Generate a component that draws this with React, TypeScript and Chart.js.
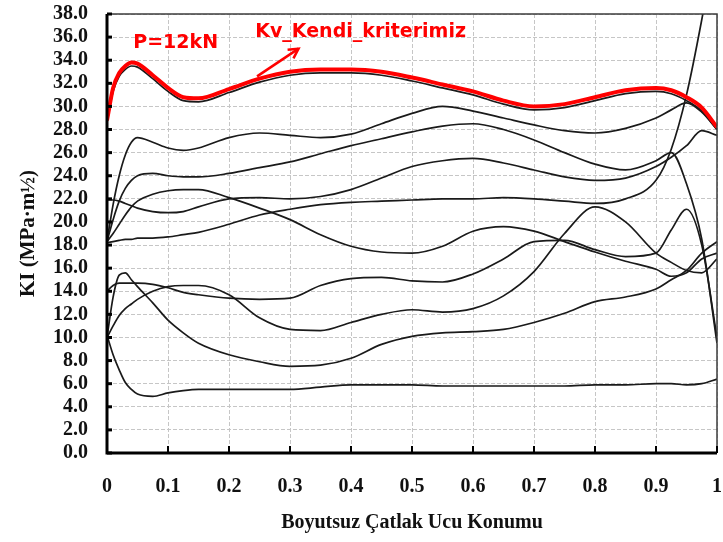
import React, { useEffect, useRef } from "react";
import { Chart, registerables } from "chart.js";

Chart.register(...registerables);

// x positions (dimensionless crack tip position)
const xs = [0, 0.01, 0.02, 0.03, 0.04, 0.05, 0.075, 0.1, 0.125, 0.15, 0.2, 0.25, 0.3, 0.35, 0.4, 0.45, 0.5, 0.55, 0.6, 0.65, 0.7, 0.75, 0.8, 0.85, 0.9, 0.925, 0.95, 0.975, 1];

// red series (Kv_Kendi_kriterimiz)
const kvKendi = [28.8, 31.6, 32.9, 33.5, 33.8, 33.7, 32.7, 31.6, 30.8, 30.7, 31.5, 32.4, 33.0, 33.2, 33.2, 33.0, 32.5, 31.9, 31.3, 30.5, 30.0, 30.2, 30.8, 31.4, 31.6, 31.4, 30.8, 29.9, 28.2];

// black series
const serA = [28.6, 31.3, 32.6, 33.2, 33.5, 33.4, 32.4, 31.3, 30.5, 30.4, 31.2, 32.1, 32.7, 32.9, 32.9, 32.7, 32.2, 31.6, 31.0, 30.2, 29.7, 29.9, 30.5, 31.1, 31.3, 31.1, 30.5, 29.6, 28.0];
const serB = [18.3, 21.5, 24.0, 25.8, 26.9, 27.3, 26.9, 26.4, 26.2, 26.4, 27.3, 27.7, 27.5, 27.3, 27.6, 28.5, 29.4, 30.0, 29.6, 29.0, 28.4, 27.9, 27.7, 28.1, 29.0, 29.7, 30.3, 29.5, 28.0];
const serC = [18.3, 20.2, 21.8, 22.9, 23.6, 24.0, 24.2, 24.0, 23.9, 23.9, 24.2, 24.7, 25.2, 25.9, 26.6, 27.2, 27.8, 28.3, 28.5, 28.0, 27.1, 26.0, 25.0, 24.5, 25.3, 26.0, 23.3, 18.5, 9.5];
const serE = [21.9, 21.9, 21.8, 21.6, 21.4, 21.2, 20.9, 20.8, 20.9, 21.3, 22.0, 22.1, 22.0, 22.2, 22.8, 23.8, 24.8, 25.3, 25.5, 25.1, 24.5, 23.9, 23.6, 23.8, 24.8, 25.6, 26.6, 27.9, 27.5];
const serF = [18.3, 19.0, 19.8, 20.6, 21.3, 21.8, 22.4, 22.7, 22.8, 22.8, 22.1, 21.2, 20.2, 18.9, 17.9, 17.4, 17.3, 17.9, 19.2, 19.6, 19.2, 18.3, 17.4, 16.6, 15.9, 15.3, 15.6, 16.8, 17.3];
const serG = [18.2, 18.3, 18.4, 18.5, 18.5, 18.6, 18.6, 18.7, 18.9, 19.1, 19.8, 20.6, 21.1, 21.5, 21.7, 21.8, 21.9, 22.0, 22.0, 22.1, 22.0, 21.8, 21.6, 22.0, 23.6, 26.3, 31.0, 37.5, 45.0];
const serH = [10.0, 13.5, 15.4, 15.6, 15.0, 14.4, 13.0, 11.5, 10.4, 9.5, 8.5, 7.9, 7.5, 7.6, 8.2, 9.4, 10.1, 10.4, 10.5, 10.7, 11.3, 12.1, 13.1, 13.5, 14.2, 15.0, 15.8, 17.3, 18.3];
const serI = [14.0, 14.5, 14.7, 14.7, 14.7, 14.7, 14.6, 14.3, 13.9, 13.7, 13.4, 13.3, 13.4, 14.5, 15.1, 15.2, 14.9, 14.8, 15.5, 16.8, 18.3, 18.4, 17.6, 17.0, 17.3, 19.3, 21.1, 18.0, 10.0];
const serK = [10.0, 11.0, 11.9, 12.5, 12.9, 13.3, 14.0, 14.4, 14.5, 14.5, 13.7, 11.7, 10.7, 10.6, 11.3, 12.0, 12.4, 12.2, 12.5, 13.6, 15.7, 19.0, 21.3, 20.0, 17.3, 16.5, 15.8, 15.6, 16.8];
const serJ = [10.2, 8.5, 7.2, 6.1, 5.5, 5.1, 4.9, 5.2, 5.4, 5.5, 5.5, 5.5, 5.5, 5.7, 5.9, 5.9, 5.9, 5.8, 5.8, 5.8, 5.8, 5.8, 5.9, 5.9, 6.0, 6.0, 5.9, 6.0, 6.4];

const blackSeries = [serA, serB, serC, serE, serF, serG, serH, serI, serK, serJ];

// axis settings
const yMin = 0;
const yMax = 38;
const yStep = 2;
const xMin = 0;
const xMax = 1;
const xStep = 0.1;

const yTitle = "KI (MPa·m½)";
const xTitle = "Boyutsuz Çatlak Ucu Konumu";

// annotations (data coordinates)
const annotTexts = ["P=12kN", "Kv_Kendi_kriterimiz"];
const annotX = [0.043, 0.243];
const annotY = [35.5, 36.4];
const arrowFrom = [0.246, 32.6];
const arrowTo = [0.314, 35.0];

const serifFont = "'Liberation Serif', 'Times New Roman', serif";

export default function App() {
  const ref = useRef<HTMLCanvasElement | null>(null);

  useEffect(() => {
    document.body.style.margin = "0";
    const canvas = ref.current;
    if (!canvas) return;

    const mk = (vals: number[]) => xs.map((x, i) => ({ x, y: vals[i] }));

    const datasets: any[] = [
      {
        label: "Kv_Kendi_kriterimiz",
        data: mk(kvKendi),
        borderColor: "#ff0000",
        borderWidth: 4,
        pointRadius: 0,
        cubicInterpolationMode: "monotone",
        fill: false,
      },
      ...blackSeries.map((v, i) => ({
        label: "s" + i,
        data: mk(v),
        borderColor: "#1a1a1a",
        borderWidth: 1.7,
        pointRadius: 0,
        cubicInterpolationMode: "monotone",
        fill: false,
      })),
    ];

    const decor = {
      id: "decor",
      afterDraw(chart: any) {
        const { ctx, chartArea, scales } = chart;
        const { left, right, top, bottom } = chartArea;
        const xs_ = scales.x;
        const ys_ = scales.y;
        ctx.save();
        // frame top/right
        ctx.strokeStyle = "#3c3c3c";
        ctx.lineWidth = 1.5;
        ctx.beginPath();
        ctx.moveTo(left, top);
        ctx.lineTo(right, top);
        ctx.lineTo(right, bottom);
        ctx.stroke();
        // inner ticks
        ctx.strokeStyle = "#000";
        ctx.lineWidth = 2;
        xs_.ticks.forEach((t: any) => {
          const px = xs_.getPixelForValue(t.value);
          ctx.beginPath();
          ctx.moveTo(px, bottom);
          ctx.lineTo(px, bottom - 7);
          ctx.stroke();
        });
        ctx.lineWidth = 3;
        ys_.ticks.forEach((t: any) => {
          const py = ys_.getPixelForValue(t.value);
          ctx.beginPath();
          ctx.moveTo(left, py);
          ctx.lineTo(left + 5, py);
          ctx.stroke();
        });
        // thick left/bottom axes
        ctx.lineWidth = 3;
        ctx.beginPath();
        ctx.moveTo(left, top);
        ctx.lineTo(left, bottom);
        ctx.lineTo(right, bottom);
        ctx.stroke();

        // annotations
        ctx.fillStyle = "#ff0000";
        ctx.font = "bold 19px 'DejaVu Sans', sans-serif";
        ctx.textBaseline = "middle";
        ctx.textAlign = "left";
        annotTexts.forEach((txt, i) => {
          ctx.fillText(txt, xs_.getPixelForValue(annotX[i]), ys_.getPixelForValue(annotY[i]));
        });
        // arrow
        const x1 = xs_.getPixelForValue(arrowFrom[0]);
        const y1 = ys_.getPixelForValue(arrowFrom[1]);
        const x2 = xs_.getPixelForValue(arrowTo[0]);
        const y2 = ys_.getPixelForValue(arrowTo[1]);
        ctx.strokeStyle = "#ff0000";
        ctx.lineWidth = 2.5;
        ctx.beginPath();
        ctx.moveTo(x1, y1);
        ctx.lineTo(x2, y2);
        ctx.stroke();
        const ang = Math.atan2(y2 - y1, x2 - x1);
        const hl = 11;
        ctx.beginPath();
        ctx.moveTo(x2 - hl * Math.cos(ang - 0.5), y2 - hl * Math.sin(ang - 0.5));
        ctx.lineTo(x2, y2);
        ctx.lineTo(x2 - hl * Math.cos(ang + 0.5), y2 - hl * Math.sin(ang + 0.5));
        ctx.stroke();
        ctx.restore();
      },
    };

    const chart = new Chart(canvas, {
      type: "line",
      data: { datasets },
      options: {
        animation: false,
        responsive: false,
        devicePixelRatio: 1,
        layout: { padding: { left: 0, top: 14, right: 6, bottom: 0 } },
        plugins: {
          legend: { display: false },
          tooltip: { enabled: false },
        },
        scales: {
          x: {
            type: "linear",
            min: xMin,
            max: xMax,
            afterFit: (s: any) => {
              s.height = 89;
              s.paddingLeft = 0;
              s.paddingRight = 0;
            },
            ticks: {
              stepSize: xStep,
              autoSkip: false,
              maxTicksLimit: 100,
              maxRotation: 0,
              padding: 22,
              color: "#111",
              font: { family: serifFont, size: 20, weight: "bold" },
              callback: (v: any) => String(Number(Number(v).toFixed(1))),
            },
            grid: { color: "#c6c6c6", lineWidth: 1, drawTicks: false },
            border: { display: false, dash: [4, 2] },
            title: {
              display: true,
              text: xTitle,
              color: "#111",
              font: { family: serifFont, size: 20, weight: "bold" },
              padding: { top: 0, bottom: 7 },
            },
          },
          y: {
            type: "linear",
            min: yMin,
            max: yMax,
            afterFit: (s: any) => {
              s.width = 107;
              s.paddingTop = 0;
              s.paddingBottom = 0;
            },
            ticks: {
              stepSize: yStep,
              autoSkip: false,
              maxTicksLimit: 100,
              padding: 19,
              color: "#111",
              font: { family: serifFont, size: 20, weight: "bold" },
              callback: (v: any) => Number(v).toFixed(1),
            },
            grid: { color: "#c6c6c6", lineWidth: 1, drawTicks: false },
            border: { display: false, dash: [4, 2] },
            title: {
              display: true,
              text: yTitle,
              color: "#111",
              font: { family: serifFont, size: 21, weight: "bold" },
              padding: { top: 16, bottom: 0 },
            },
          },
        },
      },
      plugins: [decor],
    } as any);

    return () => chart.destroy();
  }, []);

  return (
    <div style={{ width: 723, height: 542, background: "#fff" }}>
      <canvas ref={ref} width={723} height={542} />
    </div>
  );
}
